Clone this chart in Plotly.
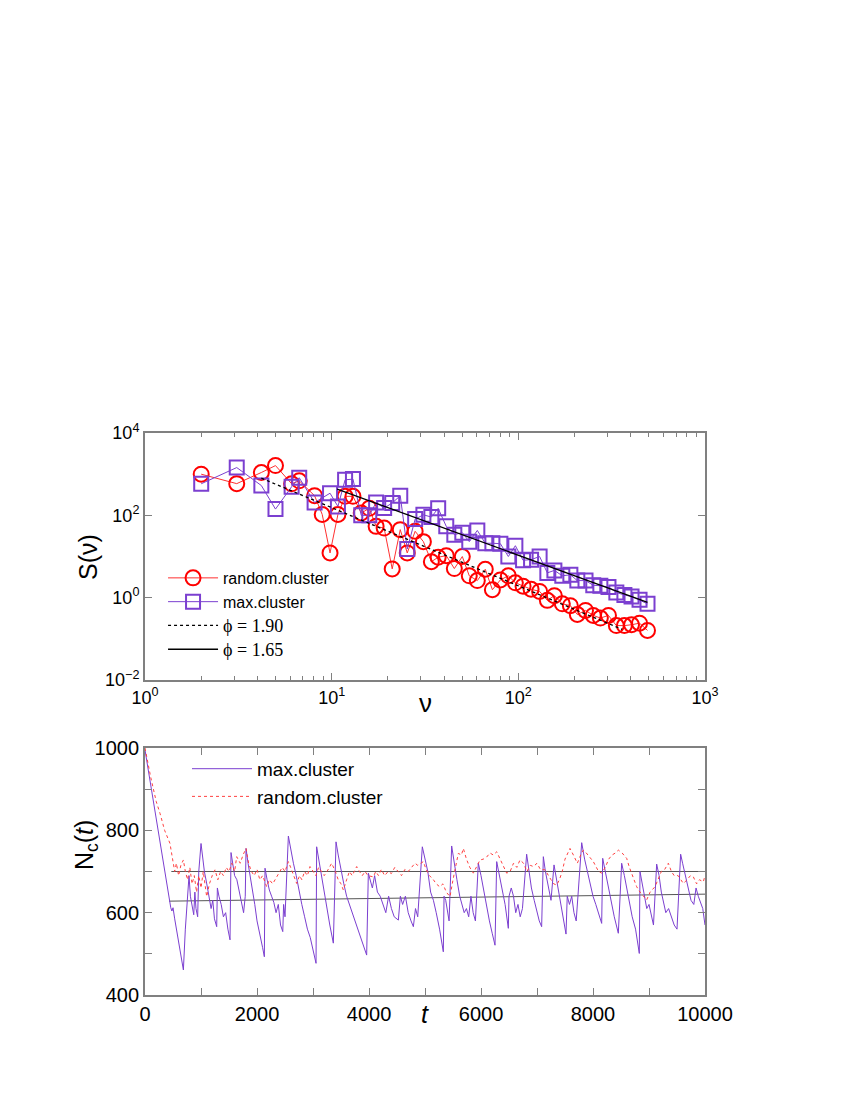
import plotly.graph_objects as go

# S(nu) data
nu_random = [2, 3.1, 4.2, 5.0, 6.1, 6.7, 8.1, 8.9, 9.8, 10.8, 11.8, 13.0, 14.4, 15.9, 17.3, 19.1,
             21.1, 23.3, 25.4, 28.0, 31.0, 34.2, 37.2, 41.1, 45.4, 50.1, 54.6, 60.3, 66.5, 72.6,
             80.1, 88.4, 96.4, 106, 117, 130, 143, 156, 172, 190, 207, 229, 252, 275, 304, 335,
             370, 404, 446, 492]
S_random = [1000, 590, 1100, 1620, 585, 690, 300, 105, 12.2, 105, 290, 290, 114, 148, 54, 49,
            5.0, 45, 12.2, 41, 23, 7.5, 9.6, 10.5, 5.1, 10, 3.4, 2.6, 4.9, 1.56,
            2.7, 3.4, 2.3, 1.9, 1.6, 1.42, 0.86, 1.12, 0.71, 0.64, 0.39, 0.49, 0.37, 0.32, 0.37, 0.21,
            0.21, 0.22, 0.24, 0.16]

nu_max = [2, 3.1, 4.2, 5.0, 6.1, 6.7, 8.1, 9.8, 10.8, 11.8, 13.0, 14.4, 15.9, 17.3, 19.1, 21.1,
          23.3, 25.4, 28.0, 31.0, 34.2, 37.2, 41.1, 45.4, 50.1, 54.6, 60.3, 66.5, 72.6, 80.1,
          88.4, 96.4, 106, 117, 130, 143, 156, 172, 190, 207, 229, 252, 275, 304, 335, 370,
          404, 446, 492]
S_max = [585, 1450, 530, 142, 495, 820, 205, 345, 165, 730, 760, 100, 100, 205, 150, 200,
         300, 15.2, 81, 103, 91, 148, 54, 34, 38, 23, 43, 21, 21, 20.5,
         10, 18.3, 8.1, 8.4, 10, 4.0, 4.6, 3.4, 3.6, 2.6, 2.6, 2.0, 1.95, 1.82, 1.34, 1.16,
         1.07, 0.89, 0.71]

# power-law fits (end points)
fit190_nu = [4.2, 360]
fit190_S = [800, 0.17]
fit165_nu = [10.7, 492]
fit165_S = [435, 0.77]

# N_c(t) time series
t_max = [0, 430, 460, 480, 500, 530, 600, 685, 720, 760, 786, 810, 840, 870, 890, 910, 940, 960,
         1000, 1030, 1060, 1100, 1140, 1180, 1210, 1240, 1280, 1292, 1320, 1360, 1400, 1440, 1480,
         1518, 1536, 1570, 1600, 1640, 1680, 1720, 1760, 1790, 1804, 1840, 1880, 1920, 1960, 2000,
         2050, 2100, 2131, 2143, 2180, 2220, 2260, 2300, 2340, 2380, 2420, 2460, 2475, 2500, 2560,
         2600, 2650, 2700, 2750, 2800, 2850, 2900, 2950, 3000, 3054, 3065, 3100, 3150, 3200, 3250,
         3300, 3363, 3411, 3450, 3500, 3550, 3600, 3650, 3700, 3750, 3800, 3850, 3900, 3958, 3988,
         4020, 4060, 4100, 4150, 4200, 4250, 4300, 4350, 4400, 4450, 4524, 4560, 4600, 4650, 4700,
         4750, 4792, 4830, 4870, 4952, 5000, 5050, 5100, 5150, 5200, 5260, 5327, 5340, 5370, 5400,
         5430, 5476, 5520, 5570, 5620, 5660, 5700, 5740, 5780, 5820, 5860, 5900, 5952, 6000, 6050,
         6100, 6150, 6200, 6250, 6280, 6330, 6380, 6430, 6488, 6500, 6540, 6580, 6620, 6660, 6700,
         6740, 6815, 6860, 6900, 6950, 7000, 7040, 7083, 7113, 7150, 7200, 7250, 7304, 7350, 7400,
         7450, 7518, 7540, 7580, 7620, 7660, 7700, 7798, 7850, 7900, 7950, 8000, 8050, 8100, 8155,
         8173, 8220, 8270, 8320, 8380, 8452, 8512, 8560, 8600, 8650, 8700, 8760, 8827, 8839, 8880,
         8920, 8960, 9000, 9040, 9080, 9137, 9180, 9220, 9260, 9300, 9350, 9400, 9450, 9500, 9565,
         9600, 9650, 9700, 9750, 9800, 9840, 9880, 9920, 9960, 10000]
N_max = [995, 632, 612, 604, 612, 585, 525, 461, 560, 640, 690, 640, 620, 595, 650, 610, 590, 700,
         768, 735, 700, 672, 640, 610, 630, 585, 566, 660, 640, 620, 590, 600, 560,
         534, 746, 720, 690, 680, 650, 625, 600, 640, 756, 720, 690, 660, 620, 580,
         550, 515, 493, 708, 680, 655, 640, 625, 600, 620, 570, 554, 620, 590, 786,
         755, 720, 690, 650, 620, 590, 560, 540, 510, 477, 760, 730, 690, 650, 610,
         570, 526, 772, 740, 700, 670, 640, 620, 600, 580, 560, 540, 520, 497, 696,
         680, 660, 690, 650, 640, 620, 600, 640, 610, 590, 582, 640, 620, 640, 600,
         580, 566, 610, 590, 760, 730, 700, 650, 630, 600, 560, 505, 640, 630, 600,
         580, 762, 720, 680, 640, 620, 600, 610, 590, 640, 600, 580, 720, 690, 650,
         610, 580, 550, 521, 724, 690, 650, 620, 562, 640, 660, 640, 600, 620, 590,
         610, 742, 700, 660, 630, 600, 580, 566, 736, 700, 660, 630, 716, 680, 640,
         600, 548, 640, 620, 640, 600, 580, 770, 730, 700, 670, 640, 620, 600, 574,
         732, 700, 660, 630, 590, 550, 720, 690, 660, 620, 590, 560, 501, 700, 670,
         640, 610, 620, 590, 570, 718, 690, 650, 620, 600, 610, 590, 570, 560, 742,
         720, 690, 660, 630, 620, 660, 640, 625, 610, 570]

t_random = [0, 100, 200, 268, 350, 446, 480, 506, 530, 560, 600, 640, 685, 720, 760, 800, 840, 880,
            920, 960, 1000, 1040, 1101, 1150, 1200, 1250, 1300, 1350, 1400, 1450, 1500, 1550, 1600,
            1637, 1700, 1750, 1804, 1850, 1900, 1950, 2000, 2050, 2100, 2173, 2220, 2280, 2351, 2400,
            2450, 2500, 2560, 2600, 2650, 2708, 2760, 2800, 2850, 2900, 2946, 3000, 3050, 3100, 3150,
            3200, 3250, 3333, 3400, 3450, 3500, 3542, 3600, 3650, 3700, 3780, 3830, 3880, 3930, 3980,
            4077, 4120, 4170, 4220, 4280, 4340, 4400, 4460, 4520, 4580, 4640, 4700, 4760, 4821, 4870,
            4970, 5020, 5080, 5150, 5200, 5262, 5320, 5380, 5446, 5500, 5560, 5595, 5650, 5685, 5740,
            5800, 5863, 5920, 5982, 6040, 6100, 6160, 6220, 6280, 6340, 6400, 6458, 6520, 6580, 6640,
            6696, 6760, 6820, 6880, 6935, 7000, 7060, 7143, 7200, 7250, 7300, 7351, 7400, 7450, 7500,
            7560, 7589, 7650, 7720, 7780, 7827, 7880, 7940, 8006, 8060, 8100, 8155, 8220, 8280, 8340,
            8400, 8452, 8520, 8601, 8650, 8700, 8780, 8840, 8900, 8958, 9020, 9060, 9107, 9160, 9220,
            9280, 9345, 9400, 9450, 9520, 9570, 9613, 9680, 9740, 9792, 9850, 9900, 9970, 10000]
N_random = [1000, 930, 870, 841, 800, 768, 740, 712, 700, 720, 690, 715, 728, 700, 680, 710, 670, 690,
            650, 690, 660, 700, 639, 670, 690, 704, 680, 700, 690, 710, 700, 720, 700,
            736, 720, 740, 756, 720, 700, 690, 705, 680, 690, 663, 680, 670, 687, 700,
            710, 700, 724, 710, 690, 671, 690, 680, 700, 690, 712, 700, 690, 710, 700,
            690, 700, 720, 700, 680, 670, 655, 680, 700, 690, 712, 700, 690, 700, 690,
            687, 700, 690, 705, 690, 700, 695, 710, 700, 690, 705, 700, 710, 720, 715,
            724, 705, 690, 680, 670, 663, 670, 650, 639, 680, 720, 744, 740, 756, 730,
            710, 696, 710, 728, 730, 735, 745, 740, 748, 730, 710, 696, 700, 720, 710,
            728, 720, 700, 715, 712, 720, 705, 704, 690, 680, 670, 667, 680, 700, 730,
            750, 756, 740, 720, 740, 752, 745, 735, 724, 710, 700, 696, 710, 730, 740,
            745, 752, 745, 732, 710, 690, 663, 650, 640, 631, 650, 655, 663, 680, 700,
            705, 720, 700, 690, 690, 680, 671, 680, 690, 687, 670, 680, 675, 690]

# flat fits of the plateaus
fit_upper_t = [470, 10000]
fit_upper_N = [700, 700]
fit_lower_t = [430, 10000]
fit_lower_N = [628, 645]

RED = "#ff0000"
PURPLE = "#7b3fd0"
FRAME = "#808080"
SANS = "Liberation Sans"
SERIF = "Liberation Serif"

fig = go.Figure()

# ---- top panel ----
fig.add_trace(go.Scatter(
    x=nu_random, y=S_random, mode="lines+markers", name="random.cluster",
    line=dict(color="#ff3030", width=1),
    marker=dict(symbol="circle-open", size=15, color=RED, line=dict(width=2)),
    xaxis="x", yaxis="y", legend="legend"
))
fig.add_trace(go.Scatter(
    x=nu_max, y=S_max, mode="lines+markers", name="max.cluster",
    line=dict(color=PURPLE, width=1),
    marker=dict(symbol="square-open", size=14, color=PURPLE, line=dict(width=2)),
    xaxis="x", yaxis="y", legend="legend"
))
fig.add_trace(go.Scatter(
    x=fit190_nu, y=fit190_S, mode="lines",
    name=f'<span style="font-family:{SERIF};font-size:18px">ϕ = 1.90</span>',
    line=dict(color="black", width=1.3, dash="dot"),
    xaxis="x", yaxis="y", legend="legend"
))
fig.add_trace(go.Scatter(
    x=fit165_nu, y=fit165_S, mode="lines",
    name=f'<span style="font-family:{SERIF};font-size:18px">ϕ = 1.65</span>',
    line=dict(color="black", width=1.3),
    xaxis="x", yaxis="y", legend="legend"
))

# ---- bottom panel ----
fig.add_trace(go.Scatter(
    x=fit_upper_t, y=fit_upper_N, mode="lines", showlegend=False,
    line=dict(color="#555555", width=1), xaxis="x2", yaxis="y2"
))
fig.add_trace(go.Scatter(
    x=fit_lower_t, y=fit_lower_N, mode="lines", showlegend=False,
    line=dict(color="#555555", width=1), xaxis="x2", yaxis="y2"
))
fig.add_trace(go.Scatter(
    x=t_max, y=N_max, mode="lines", name="max.cluster",
    line=dict(color=PURPLE, width=1), xaxis="x2", yaxis="y2", legend="legend2"
))
fig.add_trace(go.Scatter(
    x=t_random, y=N_random, mode="lines", name="random.cluster",
    line=dict(color="#ff4040", width=1, dash="dot"), xaxis="x2", yaxis="y2", legend="legend2"
))

minor_nu = [2, 3, 4, 5, 6, 7, 8, 9, 20, 30, 40, 50, 60, 70, 80, 90,
            200, 300, 400, 500, 600, 700, 800, 900]

axis_common = dict(
    showline=True, linecolor=FRAME, linewidth=2, mirror="ticks",
    ticks="inside", ticklen=7, tickcolor=FRAME, tickwidth=1,
    showgrid=False, zeroline=False, automargin=False,
)
top_font = dict(family=SANS, size=18, color="black")
bottom_font = dict(family=SANS, size=20, color="black")

# page has an 8px offset, domains are set so the frames land where the reference has them
XDOM = [0.1612, 0.8200]

fig.update_layout(
    width=850, height=1100,
    margin=dict(l=0, r=0, t=0, b=0),
    paper_bgcolor="white", plot_bgcolor="white",
    font=dict(family=SANS, color="black"),
    showlegend=True,
    xaxis=dict(
        axis_common, type="log", range=[0, 3], domain=XDOM, anchor="y",
        tickfont=top_font,
        tickvals=[1, 10, 100, 1000],
        ticktext=["10<sup>0</sup>", "10<sup>1</sup>", "10<sup>2</sup>", "10<sup>3</sup>"],
        minor=dict(tickvals=minor_nu, ticks="inside", ticklen=4, tickcolor=FRAME),
    ),
    yaxis=dict(
        axis_common, type="log", range=[-2, 4], domain=[0.3891, 0.6136], anchor="x",
        tickfont=top_font,
        tickvals=[0.01, 1, 100, 10000],
        ticktext=["10<sup>−2</sup>", "10<sup>0</sup>", "10<sup>2</sup>", "10<sup>4</sup>"],
    ),
    xaxis2=dict(
        axis_common, range=[0, 10000], domain=XDOM, anchor="y2",
        tickfont=bottom_font,
        tickvals=[0, 2000, 4000, 6000, 8000, 10000],
        ticktext=["0", "2000", "4000", "6000", "8000", "10000"],
        minor=dict(dtick=1000, ticks="inside", ticklen=7, tickcolor=FRAME),
    ),
    yaxis2=dict(
        axis_common, range=[400, 1000], domain=[0.1027, 0.3273], anchor="x2",
        tickfont=bottom_font,
        tickvals=[400, 600, 800, 1000],
        ticktext=["400", "600", "800", "1000"],
        minor=dict(dtick=100, ticks="inside", ticklen=7, tickcolor=FRAME),
    ),
    legend=dict(
        x=0.1824, y=0.4973, xanchor="left", yanchor="top",
        bgcolor="rgba(0,0,0,0)", borderwidth=0,
        font=dict(family=SANS, size=16, color="black"),
        itemwidth=50, tracegroupgap=0,
    ),
    legend2=dict(
        x=0.2106, y=0.3256, xanchor="left", yanchor="top",
        bgcolor="rgba(0,0,0,0)", borderwidth=0,
        font=dict(family=SANS, size=19, color="black"),
        itemwidth=60,
    ),
    annotations=[
        dict(text="ν", x=0.4906, y=0.3682, xref="paper", yref="paper", showarrow=False,
             font=dict(family=SANS, size=26, color="black")),
        dict(text="S(ν)", x=0.0753, y=0.5009, xref="paper", yref="paper", showarrow=False,
             textangle=-90, font=dict(family=SANS, size=25, color="black")),
        dict(text="<i>t</i>", x=0.4906, y=0.0705, xref="paper", yref="paper", showarrow=False,
             font=dict(family=SANS, size=25, color="black")),
        dict(text="N<sub>c</sub>(<i>t</i>)", x=0.0706, y=0.2145, xref="paper", yref="paper",
             showarrow=False, textangle=-90, font=dict(family=SANS, size=25, color="black")),
    ],
)

fig.write_html("out.html")
